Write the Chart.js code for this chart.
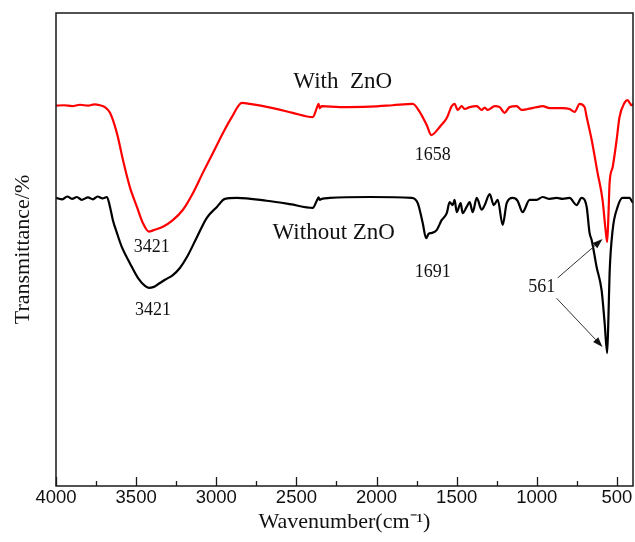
<!DOCTYPE html>
<html><head><meta charset="utf-8">
<script src="https://cdn.jsdelivr.net/npm/chart.js@4/dist/chart.umd.min.js"></script>
<style>html,body{margin:0;padding:0;background:#fff}#wrap{width:635px;height:542px}</style>
</head><body><div id="wrap"><canvas id="c"></canvas></div>
<script>
const xTickLabels = [4000, 3500, 3000, 2500, 2000, 1500, 1000, 500];
const xMinorTicks = [3750, 3250, 2750, 2250, 1750, 1250, 750];

const withZnOWavenumber = [4000,3950,3900,3850,3800,3760,3726,3695,3663,3620,3582,3539,3495,3458,3421,3390,3333,3271,3208,3146,3084,3021,2959,2903,2840,2791,2647,2523,2398,2373,2362,2354,2342,2229,2042,1900,1774,1731,1687,1658,1620,1606,1562,1531,1513,1494,1469,1450,1419,1375,1344,1325,1307,1263,1232,1201,1170,1126,1095,1057,1001,964,920,839,796,764,733,702,689,658,621,590,571,561,553,546,527,502,484,453,434,409,400];
const withZnOTransmittance = [80.4,80.5,80.3,80.6,80.4,80.7,80.5,80.1,78.9,74.6,68.9,63.2,59.0,55.6,53.8,54.1,54.8,56.2,58.4,61.9,66.2,70.4,74.6,78.0,81.0,80.8,79.9,78.9,78.0,79.9,80.8,79.9,80.3,80.1,80.2,80.5,80.8,79.1,76.3,74.2,75.3,75.9,77.8,80.3,80.8,79.5,80.3,79.7,80.1,80.3,79.5,80.0,79.5,80.3,80.1,78.9,80.1,80.3,79.5,79.7,80.1,80.3,79.9,79.9,79.7,79.1,80.8,80.1,78.0,73.2,66.2,60.5,54.1,51.6,57.5,64.1,67.4,73.2,78.0,81.0,81.6,80.5,80.8];

const withoutZnOWavenumber = [4000,3960,3930,3900,3870,3840,3800,3770,3740,3710,3682,3663,3645,3620,3589,3539,3489,3445,3421,3390,3370,3320,3271,3227,3183,3121,3059,2996,2946,2872,2685,2541,2398,2373,2362,2354,2342,2292,2042,1781,1743,1712,1691,1675,1656,1625,1594,1562,1544,1525,1513,1500,1475,1463,1438,1419,1400,1375,1344,1325,1294,1269,1244,1213,1188,1151,1120,1089,1045,1001,964,920,877,839,796,752,721,689,671,658,627,596,577,561,553,546,527,496,465,421,402,400];
const withoutZnOTransmittance = [60.9,60.6,61.2,60.7,61.1,60.5,61.0,60.6,61.2,60.8,61.1,59.0,56.2,53.5,50.5,47.1,44.0,42.3,41.9,42.1,42.5,43.6,44.6,46.1,48.4,52.6,56.7,59.0,60.7,60.9,60.3,59.6,58.8,60.3,61.0,60.5,60.7,60.9,61.1,60.9,59.8,55.6,52.4,53.3,53.5,54.1,56.2,57.7,60.0,59.4,60.5,57.9,59.8,57.7,59.0,60.0,57.9,60.9,58.4,59.4,61.7,59.4,60.5,55.2,59.8,60.9,60.3,57.9,60.5,60.5,61.1,60.7,60.9,60.7,60.9,59.4,60.9,59.0,53.5,52.0,46.3,41.4,34.5,28.1,36.0,45.0,54.1,59.0,60.9,60.9,60.0,60.2];

const seriesNames = ['With  ZnO', 'Without ZnO'];
const peakLabelTexts = ['3421', '3421', '1658', '1691', '561'];

// annotation placement (data coordinates)
const textNotes = [
  {text: seriesNames[0], x: 2211, y: 85.4, size: 23},
  {text: seriesNames[1], x: 2267, y: 53.5, size: 23},
  {text: peakLabelTexts[0], x: 3402, y: 50.5, size: 18},
  {text: peakLabelTexts[1], x: 3395, y: 37.2, size: 18},
  {text: peakLabelTexts[2], x: 1650, y: 70.0, size: 18},
  {text: peakLabelTexts[3], x: 1650, y: 45.2, size: 18},
  {text: peakLabelTexts[4], x: 970, y: 42.1, size: 18}
];
const arrowNotes = [
  {x1: 870, y1: 44.0, x2: 590, y2: 52.2},
  {x1: 877, y1: 39.7, x2: 590, y2: 29.4}
];

const toPoints = (xs, ys) => xs.map((v, i) => ({x: v, y: ys[i]}));

const framePlugin = {
  id: 'frame',
  afterDraw(chart) {
    const {ctx, chartArea: a, scales: {x, y}} = chart;
    ctx.save();
    ctx.strokeStyle = '#1a1a1a';
    ctx.lineWidth = 1.5;
    ctx.strokeRect(a.left, a.top, a.right - a.left, a.bottom - a.top);
    ctx.beginPath();
    xTickLabels.forEach(v => { const p = Math.round(x.getPixelForValue(v)) + 0.5; ctx.moveTo(p, a.bottom); ctx.lineTo(p, a.bottom - 9); });
    xMinorTicks.forEach(v => { const p = Math.round(x.getPixelForValue(v)) + 0.5; ctx.moveTo(p, a.bottom); ctx.lineTo(p, a.bottom - 5); });
    ctx.lineWidth = 1.3;
    ctx.stroke();

    ctx.fillStyle = '#111';
    ctx.textAlign = 'center';
    ctx.textBaseline = 'middle';
    textNotes.forEach(n => {
      ctx.font = n.size + 'px "Liberation Serif", "Times New Roman", serif';
      ctx.fillText(n.text, x.getPixelForValue(n.x), y.getPixelForValue(n.y));
    });

    ctx.strokeStyle = '#333';
    ctx.fillStyle = '#111';
    ctx.lineWidth = 1;
    arrowNotes.forEach(n => {
      const x1 = x.getPixelForValue(n.x1), y1 = y.getPixelForValue(n.y1);
      const x2 = x.getPixelForValue(n.x2), y2 = y.getPixelForValue(n.y2);
      const ang = Math.atan2(y2 - y1, x2 - x1);
      const L = 10, W = 3.5;
      const bx = x2 - L * Math.cos(ang), by = y2 - L * Math.sin(ang);
      ctx.beginPath(); ctx.moveTo(x1, y1); ctx.lineTo(bx, by); ctx.stroke();
      ctx.beginPath();
      ctx.moveTo(x2, y2);
      ctx.lineTo(bx + W * Math.sin(ang), by - W * Math.cos(ang));
      ctx.lineTo(bx - W * Math.sin(ang), by + W * Math.cos(ang));
      ctx.closePath(); ctx.fill();
    });
    ctx.restore();
  }
};

new Chart(document.getElementById('c'), {
  type: 'line',
  data: {
    datasets: [
      {label: seriesNames[0], data: toPoints(withZnOWavenumber, withZnOTransmittance), borderColor: '#ff0000', borderWidth: 2.2, pointRadius: 0, fill: false, cubicInterpolationMode: 'monotone'},
      {label: seriesNames[1], data: toPoints(withoutZnOWavenumber, withoutZnOTransmittance), borderColor: '#000000', borderWidth: 2.2, pointRadius: 0, fill: false, cubicInterpolationMode: 'monotone'}
    ]
  },
  options: {
    responsive: true,
    maintainAspectRatio: false,
    animation: false,
    layout: {padding: {top: 13, right: 2, left: 0, bottom: 0}},
    plugins: {legend: {display: false}, tooltip: {enabled: false}},
    scales: {
      x: {
        type: 'linear', reverse: true, min: 400, max: 4000,
        afterBuildTicks: s => { s.ticks = xTickLabels.map(v => ({value: v})); },
        afterFit: s => { s.height = 56; },
        grid: {display: false, drawTicks: false},
        border: {display: false},
        ticks: {color: '#111', font: {family: '"Liberation Sans", Arial, sans-serif', size: 18.5}, padding: 1, maxRotation: 0, autoSkip: false, callback: v => String(v)},
        title: {display: true, text: 'Wavenumber(cm⁻¹)', color: '#111', font: {family: '"Liberation Serif", "Times New Roman", serif', size: 22}, padding: {top: 0, bottom: 7}}
      },
      y: {
        min: 0, max: 100,
        afterFit: s => { s.width = 56; },
        grid: {display: false, drawTicks: false},
        border: {display: false},
        ticks: {display: false},
        title: {display: true, text: 'Transmittance/%', color: '#111', font: {family: '"Liberation Serif", "Times New Roman", serif', size: 22}, padding: {top: 10, bottom: 0}}
      }
    }
  },
  plugins: [framePlugin]
});
</script>
</body></html>
